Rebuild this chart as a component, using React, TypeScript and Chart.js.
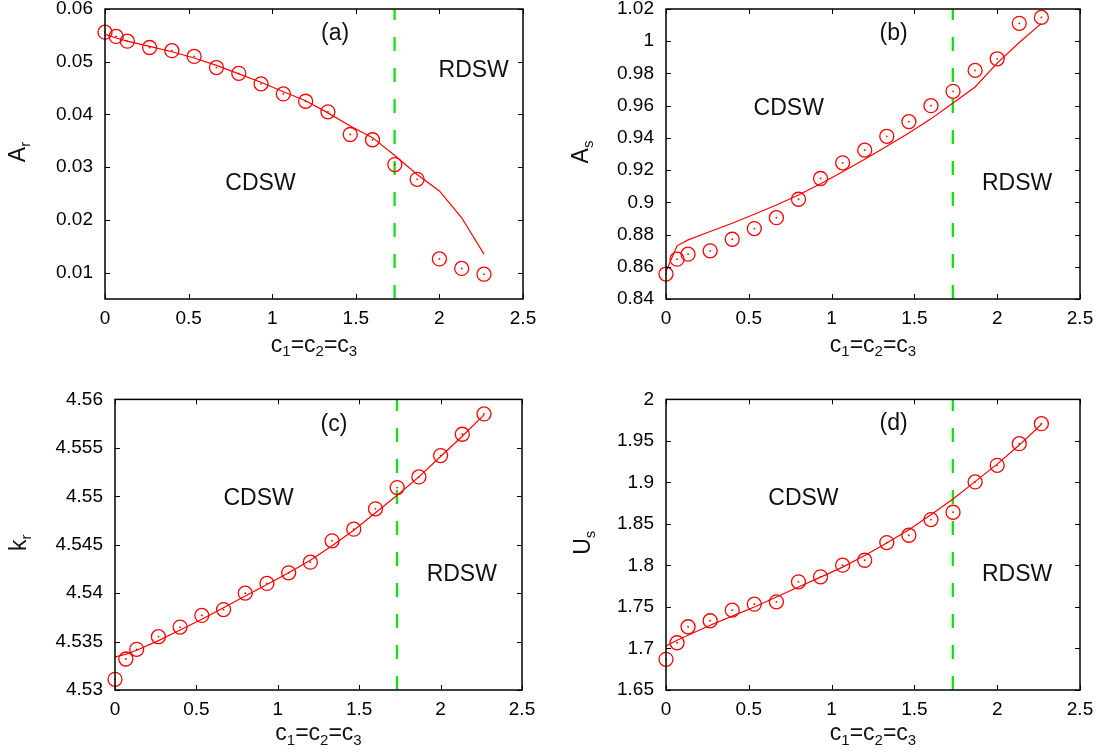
import React, { useEffect, useRef } from "react";
import { Chart, registerables } from "chart.js";

Chart.register(...registerables);

// ---------- data ----------
const cValues = [0, 0.0667, 0.1333, 0.2667, 0.4, 0.5333, 0.6667, 0.8, 0.9333, 1.0667, 1.2, 1.3333, 1.4667, 1.6, 1.7333, 1.8667, 2.0, 2.1333, 2.2667];
const criticalC = 1.732;

const arCircles = [0.0556, 0.0548, 0.0539, 0.0527, 0.0521, 0.051, 0.0489, 0.0478, 0.0458, 0.0439, 0.0425, 0.0405, 0.0362, 0.0352, 0.0305, 0.0277, 0.0126, 0.0108, 0.0097];
const arLine = [0.0552, 0.0545, 0.0539, 0.0529, 0.0519, 0.0507, 0.0493, 0.0477, 0.0461, 0.0443, 0.0426, 0.0403, 0.0378, 0.0356, 0.0322, 0.0286, 0.0255, 0.0204, 0.0135];

const asCircles = [0.8555, 0.8647, 0.8678, 0.8699, 0.8771, 0.8837, 0.8905, 0.9019, 0.9148, 0.9245, 0.9324, 0.941, 0.9501, 0.96, 0.9689, 0.9819, 0.9891, 1.0111, 1.0148];
const asLine = [0.857, 0.873, 0.8767, 0.8819, 0.887, 0.8926, 0.8983, 0.9045, 0.9115, 0.919, 0.9268, 0.9348, 0.9431, 0.9518, 0.9617, 0.9716, 0.9864, 0.9992, 1.0111];

const krCircles = [4.5311, 4.5332, 4.5342, 4.5355, 4.5365, 4.5377, 4.5383, 4.54, 4.541, 4.5421, 4.5432, 4.5454, 4.5466, 4.5487, 4.5509, 4.552, 4.5542, 4.5564, 4.5585];
const krLine = [4.5334, 4.5337, 4.5341, 4.5351, 4.5362, 4.5373, 4.5385, 4.5397, 4.5409, 4.5421, 4.5434, 4.5449, 4.5465, 4.5483, 4.5501, 4.552, 4.5541, 4.5562, 4.5584];

const usCircles = [1.6869, 1.7069, 1.7262, 1.7334, 1.7462, 1.7534, 1.7562, 1.7803, 1.7863, 1.8003, 1.8063, 1.8276, 1.8364, 1.8553, 1.8641, 1.9006, 1.9206, 1.9467, 1.9708];
const usLine = [1.703, 1.71, 1.716, 1.728, 1.739, 1.75, 1.762, 1.774, 1.786, 1.798, 1.812, 1.827, 1.843, 1.861, 1.88, 1.901, 1.922, 1.945, 1.97];

const xTicks = [0, 0.5, 1, 1.5, 2, 2.5];
const arTicks = [0.01, 0.02, 0.03, 0.04, 0.05, 0.06];
const asTicks = [0.84, 0.86, 0.88, 0.9, 0.92, 0.94, 0.96, 0.98, 1, 1.02];
const krTicks = [4.53, 4.535, 4.54, 4.545, 4.55, 4.555, 4.56];
const usTicks = [1.65, 1.7, 1.75, 1.8, 1.85, 1.9, 1.95, 2];

// ---------- styling / layout ----------
const FONT = '"Liberation Sans", Arial, Helvetica, sans-serif';
const RED = "#ff0000";
const GREEN = "#14e014";

type Seg = { t: string; sub?: boolean };
type Note = { text: string; x: number; y: number };

type Panel = {
  circles: number[];
  line: number[];
  yMin: number;
  yMax: number;
  yTicks: number[];
  yTitle: Seg[];
  notes: Note[];
  left: number;
  top: number;
  width: number;
  height: number;
  padTop: number;
  padRight: number;
  yAxisWidth: number;
  xAxisHeight: number;
  yTitleDx: number;
  xTitleDy: number;
};

const xTitle: Seg[] = [
  { t: "c" }, { t: "1", sub: true }, { t: "=" },
  { t: "c" }, { t: "2", sub: true }, { t: "=" },
  { t: "c" }, { t: "3", sub: true },
];

const panels: Panel[] = [
  {
    circles: arCircles, line: arLine, yMin: 0.005, yMax: 0.06, yTicks: arTicks,
    yTitle: [{ t: "A" }, { t: "r", sub: true }],
    notes: [
      { text: "(a)", x: 1.376, y: 0.0557 },
      { text: "RDSW", x: 2.205, y: 0.0487 },
      { text: "CDSW", x: 0.93, y: 0.0271 },
    ],
    left: 0, top: -20, width: 554, height: 396, padTop: 29, padRight: 31,
    yAxisWidth: 105, xAxisHeight: 77, yTitleDx: -80, xTitleDy: 52.5,
  },
  {
    circles: asCircles, line: asLine, yMin: 0.84, yMax: 1.02, yTicks: asTicks,
    yTitle: [{ t: "A" }, { t: "s", sub: true }],
    notes: [
      { text: "(b)", x: 1.374, y: 1.0058 },
      { text: "CDSW", x: 0.741, y: 0.9594 },
      { text: "RDSW", x: 2.12, y: 0.9124 },
    ],
    left: 554, top: -20, width: 555, height: 396, padTop: 29, padRight: 29,
    yAxisWidth: 112, xAxisHeight: 77, yTitleDx: -78, xTitleDy: 52.5,
  },
  {
    circles: krCircles, line: krLine, yMin: 4.53, yMax: 4.56, yTicks: krTicks,
    yTitle: [{ t: "k" }, { t: "r", sub: true }],
    notes: [
      { text: "(c)", x: 1.345, y: 4.5576 },
      { text: "CDSW", x: 0.882, y: 4.5499 },
      { text: "RDSW", x: 2.13, y: 4.5421 },
    ],
    left: 0, top: 376, width: 554, height: 377, padTop: 23, padRight: 32,
    yAxisWidth: 115, xAxisHeight: 63, yTitleDx: -89, xTitleDy: 50,
  },
  {
    circles: usCircles, line: usLine, yMin: 1.65, yMax: 2, yTicks: usTicks,
    yTitle: [{ t: "U" }, { t: "s", sub: true }],
    notes: [
      { text: "(d)", x: 1.374, y: 1.9723 },
      { text: "CDSW", x: 0.83, y: 1.882 },
      { text: "RDSW", x: 2.12, y: 1.7907 },
    ],
    left: 554, top: 376, width: 555, height: 377, padTop: 23, padRight: 29,
    yAxisWidth: 112, xAxisHeight: 63, yTitleDx: -76, xTitleDy: 50,
  },
];

const BASE_PX = 23;
const SUB_PX = 15;
const SUB_SHIFT = 4.5;
const TICK_PX = 19;

function drawSegs(ctx: CanvasRenderingContext2D, segs: Seg[], x: number, y: number) {
  let total = 0;
  const widths: number[] = [];
  for (const s of segs) {
    ctx.font = `${s.sub ? SUB_PX : BASE_PX}px ${FONT}`;
    const w = ctx.measureText(s.t).width;
    widths.push(w);
    total += w;
  }
  let cx = x - total / 2;
  segs.forEach((s, i) => {
    ctx.font = `${s.sub ? SUB_PX : BASE_PX}px ${FONT}`;
    ctx.fillText(s.t, cx, s.sub ? y + SUB_SHIFT : y);
    cx += widths[i];
  });
}

function fmt(v: number) {
  return String(parseFloat(v.toFixed(4)));
}

function PanelChart({ p }: { p: Panel }) {
  const ref = useRef<HTMLCanvasElement | null>(null);

  useEffect(() => {
    if (!ref.current) return;
    const overlay = {
      id: "overlay",
      afterDatasetsDraw(chart: any) {
        const { ctx, chartArea: ca, scales } = chart;
        const xs = scales.x;
        const ys = scales.y;
        ctx.save();
        // inward ticks (all four sides)
        ctx.strokeStyle = "#000";
        ctx.lineWidth = 1;
        ctx.beginPath();
        for (const v of xTicks) {
          const px = Math.round(xs.getPixelForValue(v)) + 0.5;
          ctx.moveTo(px, ca.bottom);
          ctx.lineTo(px, ca.bottom - 5);
          ctx.moveTo(px, ca.top);
          ctx.lineTo(px, ca.top + 5);
        }
        for (const v of p.yTicks) {
          const py = Math.round(ys.getPixelForValue(v)) + 0.5;
          ctx.moveTo(ca.left, py);
          ctx.lineTo(ca.left + 5, py);
          ctx.moveTo(ca.right, py);
          ctx.lineTo(ca.right - 5, py);
        }
        ctx.stroke();
        // frame
        ctx.lineWidth = 1.5;
        ctx.strokeRect(ca.left, ca.top, ca.right - ca.left, ca.bottom - ca.top);
        // annotations
        ctx.fillStyle = "#111";
        ctx.textAlign = "left";
        ctx.textBaseline = "alphabetic";
        for (const n of p.notes) {
          drawSegs(ctx, [{ t: n.text }], xs.getPixelForValue(n.x), ys.getPixelForValue(n.y) + 8);
        }
        // x title
        drawSegs(ctx, xTitle, (ca.left + ca.right) / 2, ca.bottom + p.xTitleDy);
        // y title
        ctx.translate(ca.left + p.yTitleDx, (ca.top + ca.bottom) / 2 - 2);
        ctx.rotate(-Math.PI / 2);
        drawSegs(ctx, p.yTitle, 0, 0);
        ctx.restore();
      },
    };

    const pts = (ys: number[]) => cValues.map((x, i) => ({ x, y: ys[i] }));

    const chart = new Chart(ref.current, {
      type: "scatter",
      data: {
        datasets: [
          {
            label: "fit",
            data: pts(p.line),
            showLine: true,
            borderColor: RED,
            borderWidth: 1.2,
            pointRadius: 0,
            fill: false,
            tension: 0,
          } as any,
          {
            label: "sim",
            data: pts(p.circles),
            borderColor: RED,
            backgroundColor: "rgba(0,0,0,0)",
            pointRadius: 7,
            pointBorderWidth: 1.3,
            pointStyle: "circle",
            clip: false,
          } as any,
          {
            label: "simDot",
            data: pts(p.circles),
            borderColor: RED,
            backgroundColor: RED,
            pointRadius: 0.9,
            pointBorderWidth: 0,
            clip: false,
          } as any,
          {
            label: "critical",
            data: [
              { x: criticalC, y: p.yMin },
              { x: criticalC, y: p.yMax },
            ],
            showLine: true,
            borderColor: GREEN,
            borderWidth: 2.3,
            borderDash: [14, 17],
            pointRadius: 0,
          } as any,
        ],
      },
      options: {
        responsive: false,
        animation: false,
        events: [],
        layout: { padding: { top: p.padTop, right: p.padRight, left: 0, bottom: 0 } },
        plugins: {
          legend: { display: false },
          tooltip: { enabled: false },
        },
        scales: {
          x: {
            type: "linear",
            min: 0,
            max: 2.5,
            grid: { display: false, drawTicks: false },
            border: { display: false },
            afterBuildTicks: (scale: any) => {
              scale.ticks = xTicks.map((v) => ({ value: v }));
            },
            afterFit: (scale: any) => {
              scale.height = p.xAxisHeight;
            },
            ticks: {
              autoSkip: false,
              maxRotation: 0,
              padding: 8,
              color: "#000",
              font: { family: FONT, size: TICK_PX },
              callback: (v: any) => fmt(Number(v)),
            },
          },
          y: {
            type: "linear",
            min: p.yMin,
            max: p.yMax,
            grid: { display: false, drawTicks: false },
            border: { display: false },
            afterBuildTicks: (scale: any) => {
              scale.ticks = p.yTicks.map((v) => ({ value: v }));
            },
            afterFit: (scale: any) => {
              scale.width = p.yAxisWidth;
            },
            ticks: {
              autoSkip: false,
              padding: 12,
              color: "#000",
              font: { family: FONT, size: TICK_PX, lineHeight: 1.2 },
              callback: (v: any) => fmt(Number(v)),
            },
          },
        },
      },
      plugins: [overlay],
    });
    return () => chart.destroy();
  }, [p]);

  return (
    <canvas
      ref={ref}
      width={p.width}
      height={p.height}
      style={{ position: "absolute", left: p.left, top: p.top, width: p.width, height: p.height }}
    />
  );
}

export default function App() {
  return (
    <div
      style={{
        position: "absolute",
        left: 0,
        top: 0,
        width: 1109,
        height: 753,
        overflow: "hidden",
        background: "#fff",
      }}
    >
      {panels.map((p, i) => (
        <PanelChart key={i} p={p} />
      ))}
    </div>
  );
}
